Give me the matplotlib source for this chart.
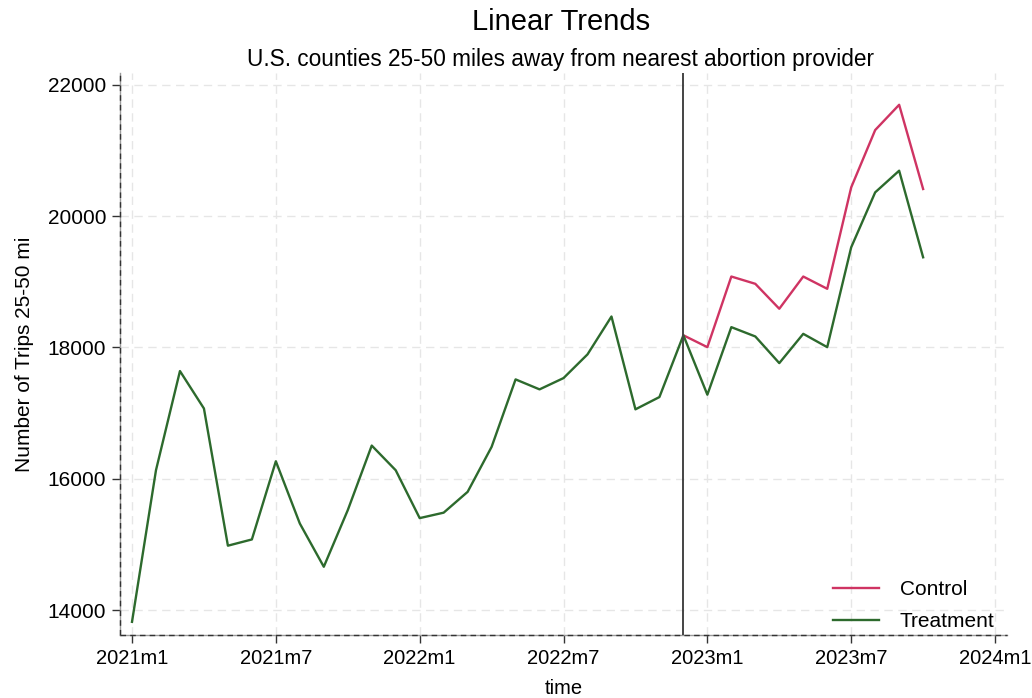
import matplotlib
matplotlib.use("Agg")
import matplotlib.pyplot as plt

plt.rcParams['font.family'] = ['Liberation Sans', 'DejaVu Sans']

# Monthly trips, 2021m1 .. 2023m10
months = list(range(34))
treatment = [13820, 16130, 17640, 17070, 14980, 15075, 16266, 15318, 14659, 15521,
             16505, 16129, 15400, 15483, 15800, 16485, 17513, 17361, 17533, 17894,
             18471, 17057, 17244, 18185, 17280, 18309, 18167, 17761, 18207, 18004,
             19525, 20362, 20692, 19373]
# Control path from 2022m12 onward
control_months = list(range(23, 34))
control = [18185, 18004, 19080, 18969, 18589, 19080, 18893, 20438, 21311, 21696, 20413]

tick_pos = [0, 6, 12, 18, 24, 30, 36]
tick_labels = ["2021m1", "2021m7", "2022m1", "2022m7", "2023m1", "2023m7", "2024m1"]
y_ticks = [14000, 16000, 18000, 20000, 22000]
event_month = 23

fig = plt.figure(figsize=(10.32, 6.98), dpi=100)
ax = fig.add_axes([0.1163, 0.0903, 0.8595, 0.8051])

ax.set_xlim(-0.5, 36.5)
ax.set_ylim(13620, 22180)

for x in tick_pos:
    ax.axvline(x, color="#e6e6e6", lw=1.0, ls=(0, (6, 4)), zorder=0)
for y in y_ticks:
    ax.axhline(y, color="#e6e6e6", lw=1.0, ls=(0, (6, 4)), zorder=0)

ax.plot(control_months, control, color="#cf3463", lw=1.7, label="Control", zorder=3)
ax.plot(months, treatment, color="#2d6a2d", lw=1.7, label="Treatment", zorder=4)
ax.axvline(event_month, color="#444444", lw=1.4, zorder=5)

ax.set_xticks(tick_pos)
ax.set_xticklabels(tick_labels)
ax.set_yticks(y_ticks)
ax.set_yticklabels([str(v) for v in y_ticks])
ax.tick_params(axis="x", labelsize=14.5, length=6, width=1, color="#333333",
               direction="out", pad=4)
ax.tick_params(axis="y", labelsize=15, length=6, width=1, color="#333333",
               direction="out", pad=4)

for s in ["top", "right"]:
    ax.spines[s].set_visible(False)
for s in ["left", "bottom"]:
    ax.spines[s].set_color("#9a9a9a")
    ax.spines[s].set_linewidth(1.0)
# darker dashes over the axis lines
ax.plot([0, 1], [0, 0], transform=ax.transAxes, color="#333333", lw=1.0,
        ls=(0, (4, 3)), clip_on=False, zorder=6)
ax.plot([0, 0], [0, 1], transform=ax.transAxes, color="#333333", lw=1.0,
        ls=(0, (4, 3)), clip_on=False, zorder=6)

ax.set_xlabel("time", fontsize=14.5, labelpad=8)
ax.set_ylabel("Number of Trips 25-50 mi", fontsize=15, labelpad=10)

fig.text(0.5435, 0.968, "Linear Trends", ha="center", va="center", fontsize=21)
fig.text(0.5435, 0.915, "U.S. counties 25-50 miles away from nearest abortion provider",
         ha="center", va="center", fontsize=16.3)

leg = ax.legend(loc="lower right", frameon=False, fontsize=15, handlelength=2.2,
                handletextpad=1.0, labelspacing=0.65, bbox_to_anchor=(1.007, -0.027))

fig.savefig("out.png", dpi=100)
